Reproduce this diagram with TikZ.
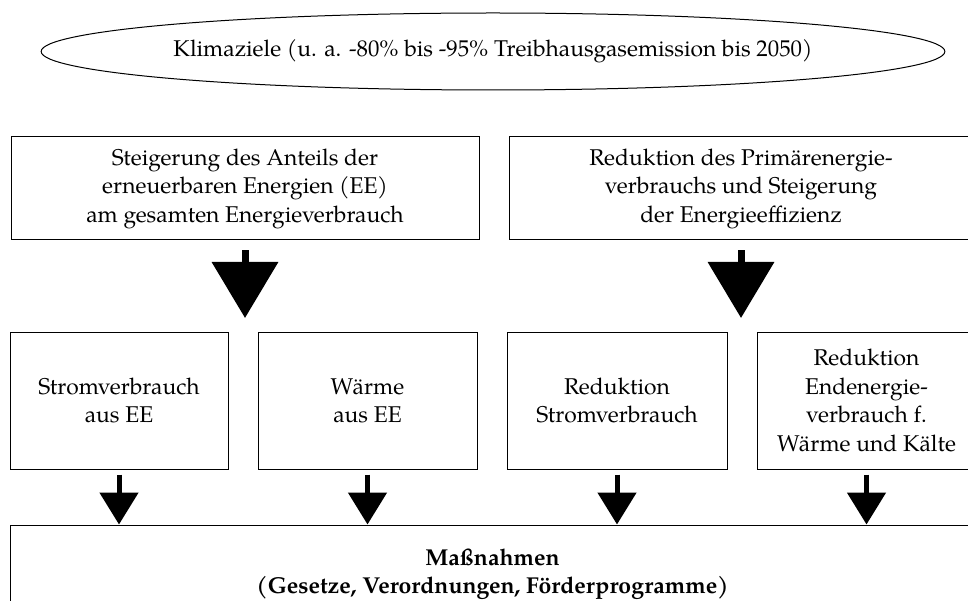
\documentclass[tikz,border=0pt]{standalone}
\usepackage{fontspec}
\setmainfont{texgyrepagella}[Extension=.otf,UprightFont=*-regular,BoldFont=*-bold,ItalicFont=*-italic,BoldItalicFont=*-bolditalic]
\usetikzlibrary{shapes.geometric,arrows.meta}
\begin{document}
\begin{tikzpicture}[x=1pt,y=-1pt,
  txt/.style={font=\fontsize{22.8}{28.5}\selectfont, align=center, inner sep=0pt},
  box/.style={txt, draw, line width=1pt, rectangle},
  goal/.style={txt, draw, line width=1pt, ellipse},
  bigarrow/.style={line width=7pt, -{Triangle[width=65pt,length=56pt]}, shorten <=10pt},
  smallarrow/.style={line width=5pt, -{Triangle[width=38pt,length=32pt]}, shorten <=5pt}]
\useasboundingbox (0,0) rectangle (968,601);
\clip (0,0) rectangle (968,601);
\node[goal, minimum width=808pt, minimum height=77pt] (ziel) at (493,51.5)
  {Klimaziele (u. a. -80\% bis -95\% Treibhausgasemission bis 2050)};
\node[box, minimum width=468pt, minimum height=103pt] (ee) at (245,188.5)
  {Steigerung des Anteils der\\erneuerbaren Energien (EE)\\am gesamten Energieverbrauch};
\node[box, minimum width=464pt, minimum height=103pt] (red) at (741,188.5)
  {Reduktion des Primärenergie-\\verbrauchs und Steigerung\\der Energieeffizienz};
\node[box, minimum width=218pt, minimum height=137pt] (a) at (119,400.5)
  {Stromverbrauch\\aus EE};
\node[box, minimum width=219pt, minimum height=137pt] (b) at (367.5,400.5)
  {Wärme\\aus EE};
\node[box, minimum width=220pt, minimum height=137pt] (c) at (617,400.5)
  {Reduktion\\Stromverbrauch};
\node[box, minimum width=219pt, minimum height=137pt] (d) at (866.5,400.5)
  {Reduktion\\Endenergie-\\verbrauch f.\\Wärme und Kälte};
\node[box, minimum width=965pt, minimum height=98pt, font=\fontsize{23}{28}\selectfont\bfseries] (m) at (492.5,574)
  {Maßnahmen\\(Gesetze, Verordnungen, Förderprogramme)};
\coordinate (t1) at (245,318);
\coordinate (t2) at (741,318);
\draw[bigarrow] (ee.south) -- (t1);
\draw[bigarrow] (red.south) -- (t2);
\draw[smallarrow] (a.south) -- (a.south |- m.north);
\draw[smallarrow] (b.south) -- (b.south |- m.north);
\draw[smallarrow] (c.south) -- (c.south |- m.north);
\draw[smallarrow] (d.south) -- (d.south |- m.north);
\end{tikzpicture}
\end{document}
